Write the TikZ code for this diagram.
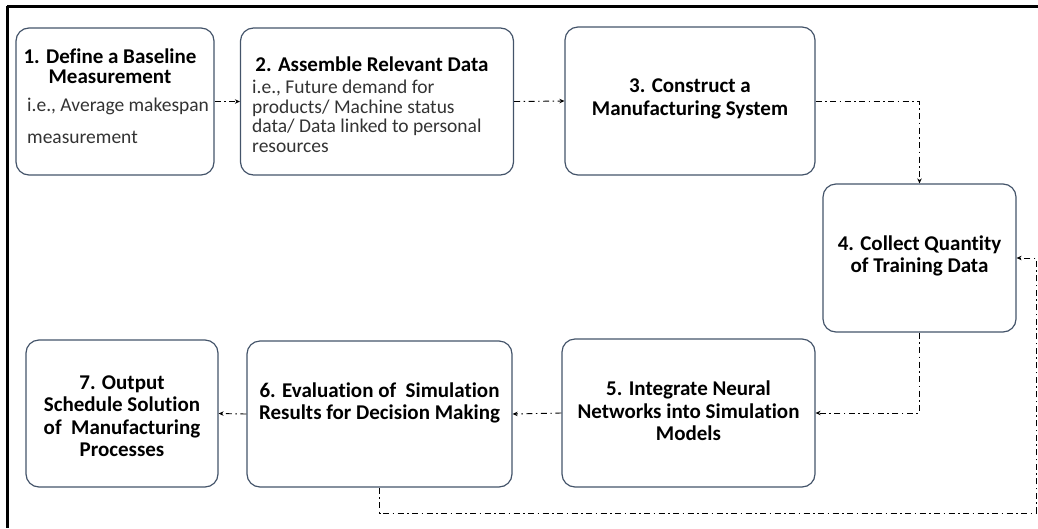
\documentclass[tikz,border=0pt]{standalone}
\usepackage{fontspec}
\setmainfont{Carlito}[Ligatures=NoCommon]
\usetikzlibrary{arrows.meta}
\definecolor{boxline}{HTML}{44546A}
\definecolor{bodytext}{HTML}{333333}
\tikzset{
  stepbox/.style={draw=boxline, line width=1.2pt, rounded corners=13pt, rectangle, inner sep=0pt},
  title/.style={font=\bfseries\fontsize{21}{22.5}\selectfont, align=center, inner sep=0pt, text=black},
  body/.style={font=\fontsize{19.5}{19.5}\selectfont, align=left, inner sep=0pt, text=bodytext, anchor=north west},
  conn/.style={line width=0.9pt, dash pattern=on 6pt off 3.5pt on 1.5pt off 3.5pt,
               -{Stealth[length=5pt,width=4.5pt]}},
  frame/.style={line width=3pt, black}
}
\begin{document}
\begin{tikzpicture}[x=1pt,y=-1pt]
\useasboundingbox (0,0) rectangle (1038,528);

% outer frame (top and left edges)
\draw[frame] (7,6) -- (1038,6);
\draw[frame] (7,6) -- (7,528);

% step boxes
\node[stepbox, minimum width=198pt, minimum height=147pt] (b1) at (115,101.5) {};
\node[stepbox, minimum width=273pt, minimum height=147pt] (b2) at (377,101.5) {};
\node[stepbox, minimum width=250pt, minimum height=148pt] (b3) at (690,101) {};
\node[stepbox, minimum width=193pt, minimum height=148pt] (b4) at (919.5,258) {};
\node[stepbox, minimum width=253pt, minimum height=148pt] (b5) at (688.5,413) {};
\node[stepbox, minimum width=265pt, minimum height=146pt] (b6) at (379.5,414) {};
\node[stepbox, minimum width=192pt, minimum height=147pt] (b7) at (122,413.5) {};

% box texts
\node[title, font=\bfseries\fontsize{21}{20.5}\selectfont] (t1) at (110,66) {1. Define a Baseline\\Measurement};
\node[body] (d1) at (27,98) {i.e., Average makespan\\[12pt]measurement};
\node[title] (t2) at (372,64) {2. Assemble Relevant Data};
\node[body] (d2) at (252,80) {i.e., Future demand for\\products/ Machine status\\data/ Data linked to personal\\resources};
\node[title] (t3) at (690,99) {3. Construct a\\Manufacturing System};
\node[title] (t4) at (919.5,256) {4. Collect Quantity\\of Training Data};
\node[title] (t5) at (688.5,411) {5. Integrate Neural\\Networks into Simulation\\Models};
\node[title] (t6) at (379.5,403) {6. Evaluation of~ Simulation\\Results for Decision Making};
\node[title] (t7) at (122,416) {7. Output\\Schedule Solution\\of~ Manufacturing\\Processes};

% connectors
\coordinate (fb) at (1036,513);
\draw[conn] (b1.east) -- (b2.west);
\draw[conn] (b2.east) -- (b3.west);
\draw[conn] (b3.east) -| (b4.north);
\draw[conn] (b4.south) |- (b5.east);
\draw[conn] (b5.west) -- (b6.east);
\draw[conn] (b6.west) -- (b7.east);
\draw[conn] (b6.south) |- (fb) |- (b4.east);
\end{tikzpicture}
\end{document}
